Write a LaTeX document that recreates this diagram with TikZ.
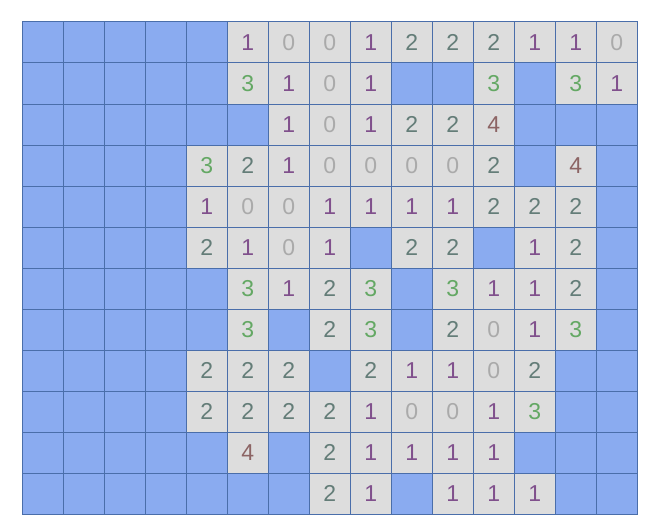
\documentclass[tikz,border=0pt]{standalone}
\usepackage{fontspec}
\setmainfont{Liberation Sans}
\usepackage{tikz}
\usetikzlibrary{positioning}
\definecolor{cellblue}{RGB}{138,171,240}
\definecolor{cellgray}{RGB}{221,221,221}
\definecolor{gridline}{RGB}{74,110,170}
\definecolor{numzero}{RGB}{170,170,170}
\definecolor{numone}{RGB}{128,80,140}
\definecolor{numtwo}{RGB}{100,125,120}
\definecolor{numthree}{RGB}{100,168,100}
\definecolor{numfour}{RGB}{140,100,100}
\tikzset{
    mycell/.style = {rectangle, draw=gridline, line width=1pt, minimum size=41pt, inner sep=0pt, outer sep=0pt, font=\fontsize{23}{23}\selectfont},
    cellb/.style = {mycell, fill=cellblue},
    cell0/.style = {mycell, fill=cellgray, text=numzero},
    cell1/.style = {mycell, fill=cellgray, text=numone},
    cell2/.style = {mycell, fill=cellgray, text=numtwo},
    cell3/.style = {mycell, fill=cellgray, text=numthree},
    cell4/.style = {mycell, fill=cellgray, text=numfour}
}

\begin{document}
\begin{tikzpicture}[x=1pt,y=-1pt]
  \useasboundingbox (0,0) rectangle (650,527);
  % b = covered cell, digits = opened cells
  \foreach \row [count=\r from 0] in {
      {b,b,b,b,b,1,0,0,1,2,2,2,1,1,0},
      {b,b,b,b,b,3,1,0,1,b,b,3,b,3,1},
      {b,b,b,b,b,b,1,0,1,2,2,4,b,b,b},
      {b,b,b,b,3,2,1,0,0,0,0,2,b,4,b},
      {b,b,b,b,1,0,0,1,1,1,1,2,2,2,b},
      {b,b,b,b,2,1,0,1,b,2,2,b,1,2,b},
      {b,b,b,b,b,3,1,2,3,b,3,1,1,2,b},
      {b,b,b,b,b,3,b,2,3,b,2,0,1,3,b},
      {b,b,b,b,2,2,2,b,2,1,1,0,2,b,b},
      {b,b,b,b,2,2,2,2,1,0,0,1,3,b,b},
      {b,b,b,b,b,4,b,2,1,1,1,1,b,b,b},
      {b,b,b,b,b,b,b,2,1,b,1,1,1,b,b}} {
    \foreach \v [count=\c from 0] in \row {
      \node[cell\v] (c\r-\c) at ({42.8+41*\c},{42.5+41*\r}) {\if b\v\else\v\fi};
    }
  }
\end{tikzpicture}
\end{document}
